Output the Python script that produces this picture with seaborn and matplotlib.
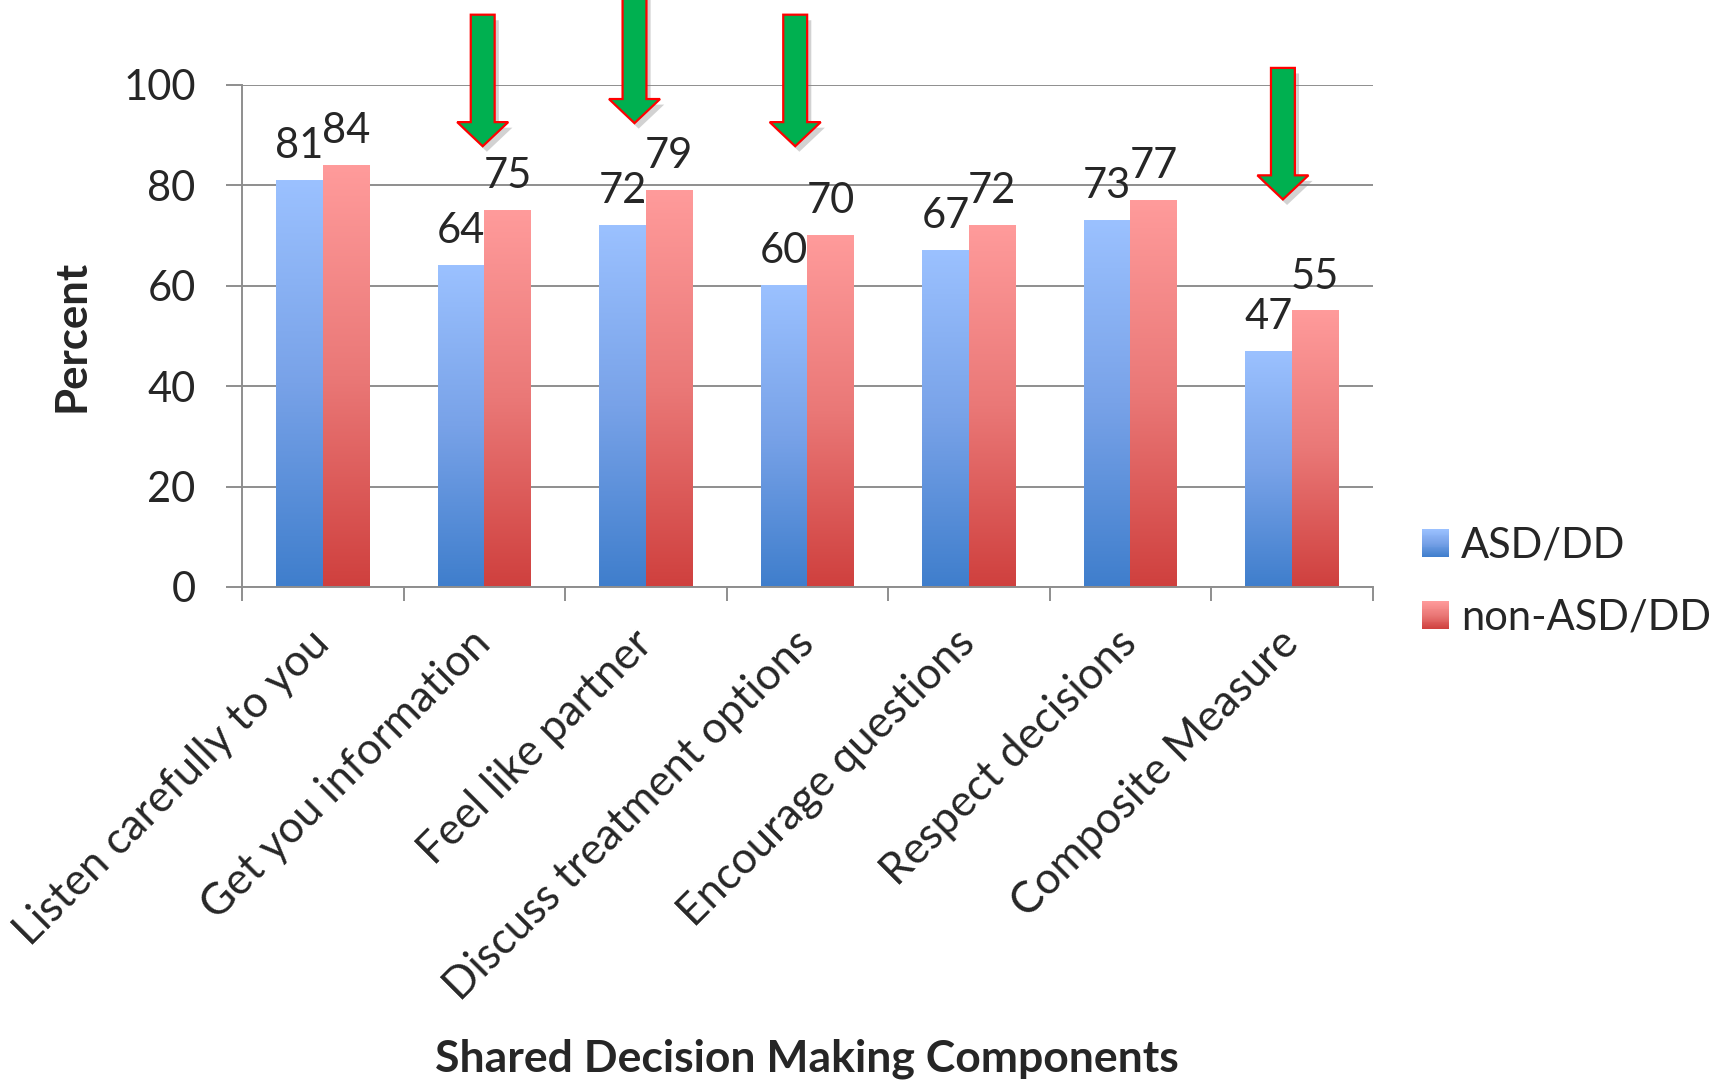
import numpy as np
import pandas as pd
import matplotlib
matplotlib.use("Agg")
import matplotlib.pyplot as plt
import seaborn as sns
from matplotlib.colors import LinearSegmentedColormap
from matplotlib.patches import Polygon, Rectangle
from matplotlib.legend_handler import HandlerBase
import matplotlib.patheffects as pe

# ---- data -------------------------------------------------------------
components = [
    "Listen carefully to you",
    "Get you information",
    "Feel like partner",
    "Discuss treatment options",
    "Encourage questions",
    "Respect decisions",
    "Composite Measure",
]
groups = ["ASD/DD", "non-ASD/DD"]
asd_dd = [81, 64, 72, 60, 67, 73, 47]
non_asd_dd = [84, 75, 79, 70, 72, 77, 55]
y_ticks = [0, 20, 40, 60, 80, 100]

# components marked with a downward arrow (significantly lower for ASD/DD)
flagged = ["Get you information", "Feel like partner",
           "Discuss treatment options", "Composite Measure"]

# ---- style ------------------------------------------------------------
sns.set_style("white")
plt.rcParams["font.family"] = ["Lato", "DejaVu Sans"]

GRID = "#8E8E8E"
gradients = {
    "ASD/DD": LinearSegmentedColormap.from_list(
        "asd", [(0.0, "#3F7ECC"), (0.5, "#78A2E8"), (1.0, "#9BC1FF")]),
    "non-ASD/DD": LinearSegmentedColormap.from_list(
        "non", [(0.0, "#CF403E"), (0.5, "#EA7877"), (1.0, "#FF9B9B")]),
}
palette = {g: gradients[g](0.5) for g in groups}

df = pd.DataFrame({
    "component": components * 2,
    "group": [groups[0]] * len(components) + [groups[1]] * len(components),
    "percent": asd_dd + non_asd_dd,
})

fig = plt.figure(figsize=(17.23, 10.81), dpi=100)
ax = fig.add_axes([0.1405, 0.4570, 0.6561, 0.4644])

sns.barplot(data=df, x="component", y="percent", hue="group",
            order=components, hue_order=groups, palette=palette,
            width=0.576, errorbar=None, legend=False, ax=ax,
            edgecolor="none", linewidth=0, saturation=1)

# vertical gradient fill on each bar
grad = np.linspace(0, 1, 256).reshape(-1, 1)
for group, container in zip(groups, ax.containers):
    for rect in container:
        x0, w, h = rect.get_x(), rect.get_width(), rect.get_height()
        ax.imshow(grad, extent=(x0, x0 + w, 0, h), origin="lower",
                  aspect="auto", cmap=gradients[group], zorder=2.1,
                  interpolation="bilinear")

# value labels
for values, container in zip([asd_dd, non_asd_dd], ax.containers):
    ax.bar_label(container, labels=[str(v) for v in values],
                 padding=11, fontsize=30, zorder=5)

ax.set_xlim(-0.5, len(components) - 0.5)
ax.set_ylim(0, 100)

# axes, ticks and grid
ax.set_axisbelow(True)
ax.yaxis.grid(True, color=GRID, linewidth=1.4)
ax.xaxis.grid(False)
for side in ["top", "right"]:
    ax.spines[side].set_visible(False)
for side in ["left", "bottom"]:
    ax.spines[side].set_color(GRID)
    ax.spines[side].set_linewidth(1.4)

ax.set_yticks(y_ticks)
ax.set_yticklabels([str(t) for t in y_ticks], fontsize=30)
ax.tick_params(axis="y", which="major", direction="out", length=11.5,
               width=1.4, color=GRID, pad=22, left=True)

ax.set_xticks(range(len(components)))
ax.set_xticklabels(components, rotation=45, ha="right",
                   rotation_mode="anchor", fontsize=31.5, va="center")
ax.tick_params(axis="x", which="major", length=0, pad=36, bottom=True)
ax.set_xticks(np.arange(-0.5, len(components)), minor=True)
ax.tick_params(axis="x", which="minor", direction="out", length=10,
               width=1.4, color=GRID, bottom=True)

ax.set_ylabel("Percent", fontsize=31.5, fontweight="bold", va="center")
ax.yaxis.set_label_coords(-0.151, 0.5)
ax.set_xlabel("Shared Decision Making Components", fontsize=32,
              fontweight="bold", va="baseline")
ax.xaxis.set_label_coords(0.5, -0.966)

# downward arrows above flagged components
arrow_tip = [87.8, 92.4, 87.8, 77.2]
arrow_top = [114.0, 125.0, 114.0, 103.4]
arrow_dx = [-0.01, -0.07, -0.075, -0.055]
head_len, shaft_hw, head_hw = 4.8, 0.074, 0.158
for name, tip, top, dx in zip(flagged, arrow_tip, arrow_top, arrow_dx):
    cx = components.index(name) + dx
    verts = [(cx - shaft_hw, top), (cx + shaft_hw, top),
             (cx + shaft_hw, tip + head_len), (cx + head_hw, tip + head_len),
             (cx, tip), (cx - head_hw, tip + head_len),
             (cx - shaft_hw, tip + head_len)]
    arrow = Polygon(verts, closed=True, facecolor="#00B050",
                    edgecolor="#FF0000", linewidth=1.6, clip_on=False,
                    zorder=6, joinstyle="miter")
    arrow.set_path_effects([
        pe.SimplePatchShadow(offset=(3, -4), shadow_rgbFace="#808080", alpha=0.35),
        pe.Normal()])
    ax.add_patch(arrow)


# legend with gradient swatches
class GradientSwatch(HandlerBase):
    def __init__(self, cmap):
        super().__init__()
        self.cmap = cmap

    def create_artists(self, legend, orig_handle, xdescent, ydescent,
                       width, height, fontsize, trans):
        n = 30
        parts = []
        for i in range(n):
            parts.append(Rectangle(
                (-xdescent, -ydescent + height * i / n), width,
                height / n * 1.15, facecolor=self.cmap((i + 0.5) / n),
                edgecolor="none", transform=trans))
        return parts


handles = [Rectangle((0, 0), 1, 1) for _ in groups]
ax.legend(handles, groups,
          handler_map={h: GradientSwatch(gradients[g]) for h, g in zip(handles, groups)},
          loc="center left", bbox_to_anchor=(0.8253, 0.462),
          bbox_transform=fig.transFigure, frameon=False, fontsize=30,
          handlelength=0.65, handleheight=0.65, handletextpad=0.29,
          labelspacing=0.82, borderpad=0, borderaxespad=0)

fig.savefig("out.png", dpi=100)
